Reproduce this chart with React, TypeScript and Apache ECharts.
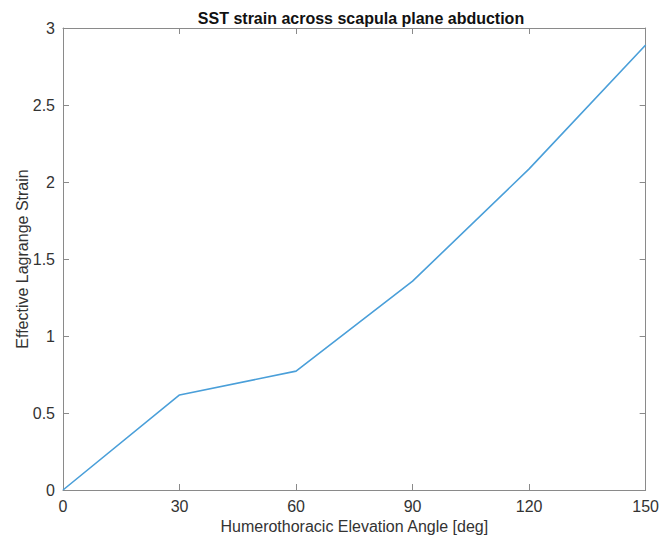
import React, { useEffect, useRef } from "react";
import * as echarts from "echarts";

const angles = [0, 30, 60, 90, 120, 150];
const strain = [0, 0.617, 0.772, 1.356, 2.085, 2.89];
const xTicks = [0, 30, 60, 90, 120, 150];
const yTicks = [0, 0.5, 1, 1.5, 2, 2.5, 3];

const FONT = "'Liberation Sans', Arial, Helvetica, sans-serif";
const AXIS_COLOR = "#8a8a8a";
const LABEL_COLOR = "#333333";

export default function App() {
  const ref = useRef<HTMLDivElement>(null);
  useEffect(() => {
    if (!ref.current) return;
    const chart = echarts.init(ref.current, undefined, { renderer: "svg" });
    const axisLine = { show: true, onZero: false, lineStyle: { color: AXIS_COLOR, width: 1 } };
    const axisTick = { show: true, inside: true, length: 6, lineStyle: { color: AXIS_COLOR, width: 1 } };
    chart.setOption({
      animation: false,
      backgroundColor: "#ffffff",
      title: {
        text: "SST strain across scapula plane abduction",
        left: 356,
        top: 5,
        textAlign: "center",
        textStyle: { fontFamily: FONT, fontSize: 16, fontWeight: "bold", color: "#111111" },
      },
      grid: { left: 63, right: 12, top: 28, bottom: 47, containLabel: false },
      xAxis: [
        {
          type: "value",
          min: xTicks[0],
          max: xTicks[xTicks.length - 1],
          interval: 30,
          position: "bottom",
          name: "Humerothoracic Elevation Angle [deg]",
          nameLocation: "middle",
          nameGap: 28,
          nameMoveOverlap: false,
          nameTextStyle: { fontFamily: FONT, fontSize: 16, color: LABEL_COLOR },
          axisLine,
          axisTick,
          splitLine: { show: false },
          axisLabel: { fontFamily: FONT, fontSize: 16, color: LABEL_COLOR, margin: 8 },
        },
        {
          type: "value",
          min: xTicks[0],
          max: xTicks[xTicks.length - 1],
          interval: 30,
          position: "top",
          axisLine,
          axisTick,
          splitLine: { show: false },
          axisLabel: { show: false },
        },
      ],
      yAxis: [
        {
          type: "value",
          min: yTicks[0],
          max: yTicks[yTicks.length - 1],
          interval: 0.5,
          position: "left",
          name: "Effective Lagrange Strain",
          nameLocation: "middle",
          nameGap: 33,
          nameMoveOverlap: false,
          nameTextStyle: { fontFamily: FONT, fontSize: 16, color: LABEL_COLOR },
          axisLine,
          axisTick,
          splitLine: { show: false },
          axisLabel: { fontFamily: FONT, fontSize: 16, color: LABEL_COLOR, margin: 8 },
        },
        {
          type: "value",
          min: yTicks[0],
          max: yTicks[yTicks.length - 1],
          interval: 0.5,
          position: "right",
          axisLine,
          axisTick,
          splitLine: { show: false },
          axisLabel: { show: false },
        },
      ],
      series: [
        {
          type: "line",
          data: angles.map((a, i) => [a, strain[i]]),
          xAxisIndex: 0,
          yAxisIndex: 0,
          showSymbol: false,
          symbol: "none",
          lineStyle: { color: "#4a9fd9", width: 1.6 },
        },
      ],
    });
    return () => chart.dispose();
  }, []);
  return (
    <div
      ref={ref}
      style={{ position: "fixed", left: 0, top: 0, width: 662, height: 539, background: "#fff" }}
    />
  );
}
